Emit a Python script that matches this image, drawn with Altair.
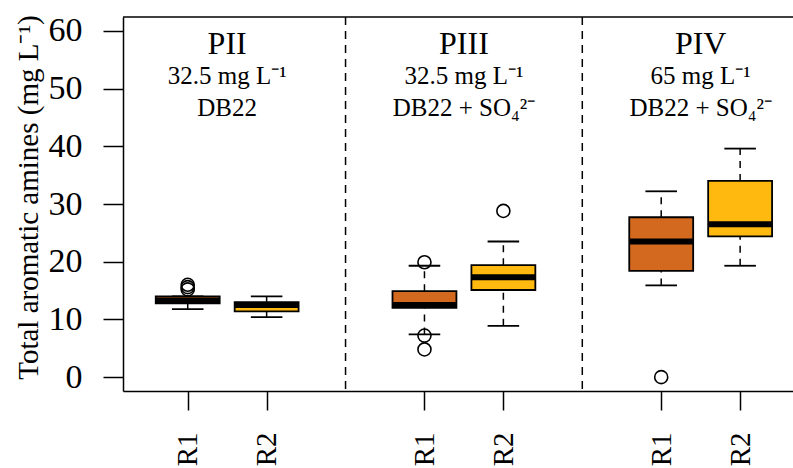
import altair as alt
import pandas as pd

# ---------------- data ----------------
groups = ["PII", "PII", "PIII", "PIII", "PIV", "PIV"]
reactors = ["R1", "R2", "R1", "R2", "R1", "R2"]
positions = [1, 2, 4, 5, 7, 8]
lower_whisker = [11.8, 10.4, 7.4, 8.9, 15.9, 19.3]
q1 = [12.8, 11.4, 12.0, 15.1, 18.4, 24.4]
median = [13.3, 12.5, 12.5, 17.3, 23.5, 26.5]
q3 = [14.0, 13.0, 14.9, 19.4, 27.7, 34.0]
upper_whisker = [14.0, 14.0, 19.3, 23.5, 32.2, 39.6]

outlier_group = ["PII", "PII", "PII", "PIII", "PIII", "PIII", "PIII", "PIV"]
outlier_reactor = ["R1", "R1", "R1", "R1", "R1", "R1", "R2", "R1"]
outlier_value = [15.2, 15.6, 16.0, 19.9, 7.2, 4.8, 28.8, 0.0]

panel_names = ["PII", "PIII", "PIV"]
panel_conc = ["32.5 mg L\u207b\u00b9", "32.5 mg L\u207b\u00b9", "65 mg L\u207b\u00b9"]
panel_medium = ["DB22", "DB22 + SO\u2084\u00b2\u207b", "DB22 + SO\u2084\u00b2\u207b"]
divider_positions = [3, 6]
y_ticks = [0, 10, 20, 30, 40, 50, 60]
y_title = "Total aromatic amines (mg L\u207b\u00b9)"

colors = {"R1": "#D2691E", "R2": "#FFB90F"}

# ---------------- tables ----------------
box = pd.DataFrame({
    "group": groups, "reactor": reactors, "pos": positions,
    "lo": lower_whisker, "q1": q1, "med": median, "q3": q3, "hi": upper_whisker,
})
half_box = 0.405
half_cap = 0.2
box["left"] = box["pos"] - half_box
box["right"] = box["pos"] + half_box
box["capl"] = box["pos"] - half_cap
box["capr"] = box["pos"] + half_cap

out = pd.DataFrame({"group": outlier_group, "reactor": outlier_reactor, "value": outlier_value})
out = out.merge(box[["group", "reactor", "pos"]], on=["group", "reactor"])

hdr = pd.DataFrame({"group": panel_names, "conc": panel_conc, "medium": panel_medium})
hdr = hdr.merge(box.groupby("group", as_index=False)["pos"].mean(), on="group")

div = pd.DataFrame({"pos": divider_positions})
frame = pd.DataFrame({"k": [0]})

# ---------------- scales / axes ----------------
FONT = "Liberation Serif"
label_map = "{" + ",".join(f"'{p}':'{r}'" for p, r in zip(positions, reactors)) + "}"

xscale = alt.Scale(domain=[0.18, 8.67], nice=False, zero=False)
yscale = alt.Scale(domain=[-2.4, 62.4], nice=False, zero=False)

xaxis = alt.Axis(
    title=None, values=positions, labelExpr=f"{label_map}[datum.value]",
    labelAngle=270, labelFont=FONT, labelFontSize=29, labelColor="black",
    labelPadding=22, tickSize=19, tickColor="black", tickWidth=1.5,
    domainColor="black", domainWidth=1.5, grid=False,
)
yaxis = alt.Axis(
    title=y_title, values=y_ticks, labelFont=FONT, labelFontSize=34,
    labelColor="black", labelPadding=21, tickSize=20, tickColor="black",
    tickWidth=1.5, domainColor="black", domainWidth=1.5, grid=False,
    titleFont=FONT, titleFontSize=29, titleFontWeight="normal", titleColor="black",
    titleX=-95, titleY=180, titleBaseline="middle", titleAngle=270,
)

color = alt.Color("reactor:N",
                  scale=alt.Scale(domain=list(colors.keys()), range=list(colors.values())),
                  legend=None)

base = alt.Chart(box)

upper_wh = base.mark_rule(color="black", strokeWidth=1.5, strokeDash=[7, 6]).encode(
    x=alt.X("pos:Q", scale=xscale, axis=xaxis),
    y=alt.Y("q3:Q", scale=yscale, axis=yaxis), y2="hi:Q")
lower_wh = base.mark_rule(color="black", strokeWidth=1.5, strokeDash=[7, 6]).encode(
    x=alt.X("pos:Q", scale=xscale, axis=xaxis),
    y=alt.Y("lo:Q", scale=yscale, axis=yaxis), y2="q1:Q")
cap_hi = base.mark_rule(color="black", strokeWidth=1.8).encode(
    x=alt.X("capl:Q", scale=xscale, axis=xaxis), x2="capr:Q",
    y=alt.Y("hi:Q", scale=yscale, axis=yaxis))
cap_lo = base.mark_rule(color="black", strokeWidth=1.8).encode(
    x=alt.X("capl:Q", scale=xscale, axis=xaxis), x2="capr:Q",
    y=alt.Y("lo:Q", scale=yscale, axis=yaxis))
boxes = base.mark_rect(stroke="black", strokeWidth=1.8).encode(
    x=alt.X("left:Q", scale=xscale, axis=xaxis), x2="right:Q",
    y=alt.Y("q1:Q", scale=yscale, axis=yaxis), y2="q3:Q",
    fill=color)
meds = base.mark_rule(color="black", strokeWidth=6, strokeCap="butt").encode(
    x=alt.X("left:Q", scale=xscale, axis=xaxis), x2="right:Q",
    y=alt.Y("med:Q", scale=yscale, axis=yaxis))
outl = alt.Chart(out).mark_point(shape="circle", filled=False, color="black",
                                  size=170, strokeWidth=1.6, opacity=1).encode(
    x=alt.X("pos:Q", scale=xscale, axis=xaxis),
    y=alt.Y("value:Q", scale=yscale, axis=yaxis))

dividers = alt.Chart(div).mark_rule(color="black", strokeWidth=1.5, strokeDash=[8, 6]).encode(
    x=alt.X("pos:Q", scale=xscale, axis=xaxis))
top_line = alt.Chart(frame).mark_rule(color="black", strokeWidth=1.5).encode(
    y=alt.value(0))

h_name = alt.Chart(hdr).mark_text(font=FONT, fontSize=32, color="black",
                                  baseline="alphabetic").encode(
    x=alt.X("pos:Q", scale=xscale, axis=xaxis), y=alt.value(37), text="group:N")
h_conc = alt.Chart(hdr).mark_text(font=FONT, fontSize=25, color="black",
                                  baseline="alphabetic").encode(
    x=alt.X("pos:Q", scale=xscale, axis=xaxis), y=alt.value(67), text="conc:N")
h_med = alt.Chart(hdr).mark_text(font=FONT, fontSize=25, color="black",
                                 baseline="alphabetic").encode(
    x=alt.X("pos:Q", scale=xscale, axis=xaxis), y=alt.value(99), text="medium:N")

chart = alt.layer(
    dividers, top_line, upper_wh, lower_wh, cap_hi, cap_lo, boxes, meds, outl,
    h_name, h_conc, h_med,
).properties(
    width=670, height=374,
    autosize=alt.AutoSizeParams(type="none"),
    padding={"left": 123, "top": 17, "right": 0, "bottom": 77},
    background="white",
).configure_view(stroke=None)

chart.save("out.html", embed_options={"renderer": "svg", "actions": False})
